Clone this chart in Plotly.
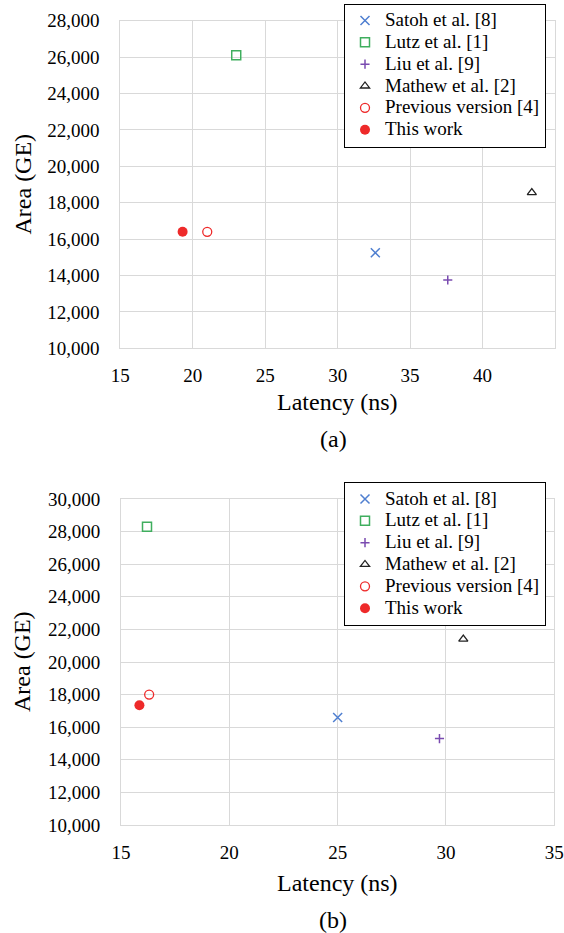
import plotly.graph_objects as go

# ---- data ----
series_names = ["Satoh et al. [8]", "Lutz et al. [1]", "Liu et al. [9]",
                "Mathew et al. [2]", "Previous version [4]", "This work"]

# (a)
lat_a = [32.6, 23.0, 37.6, 43.4, 21.0, 19.3]
area_a = [15250, 26100, 13750, 18550, 16400, 16400]

# (b)
lat_b = [25.0, 16.2, 29.7, 30.8, 16.3, 15.85]
area_b = [16600, 28300, 15300, 21400, 18000, 17350]

xticks_a = [15, 20, 25, 30, 35, 40, 45]
xticks_b = [15, 20, 25, 30, 35]

# ---- styles ----
symbols = ["x-thin-open", "square-open", "cross-thin-open",
           "triangle-up-open", "circle-open", "circle"]
colors = ["#4f7fd0", "#3fae5e", "#7a4bb0", "#222222", "#ee2a2a", "#ee2a2a"]
sizes = [9, 9, 6.5, 8, 9, 10]
line_w = [1.5, 1.5, 1.5, 1.3, 1.3, 0]

FONT = "Liberation Serif"
W, H = 564, 933

def legend_label(s):
    # larger glyphs than the legend's base size keep the rows compact
    return '<span style="font-size:19px">' + s + '</span>'

fig = go.Figure()
for i, name in enumerate(series_names):
    fig.add_trace(go.Scatter(
        x=[lat_a[i]], y=[area_a[i]], mode="markers", name=legend_label(name),
        marker=dict(symbol=symbols[i], color=colors[i], size=sizes[i],
                    line=dict(color=colors[i], width=line_w[i])),
        xaxis="x", yaxis="y", legend="legend"))
for i, name in enumerate(series_names):
    fig.add_trace(go.Scatter(
        x=[lat_b[i]], y=[area_b[i]], mode="markers", name=legend_label(name),
        marker=dict(symbol=symbols[i], color=colors[i], size=sizes[i],
                    line=dict(color=colors[i], width=line_w[i])),
        xaxis="x2", yaxis="y2", legend="legend2"))

grid = "#d9d9d9"
def xax(domain, rng, ticks, anchor):
    return dict(domain=domain, range=rng, tickvals=ticks, anchor=anchor,
                automargin=False,
                showgrid=True, gridcolor=grid, gridwidth=1,
                showline=True, linecolor=grid, linewidth=1, mirror=True,
                zeroline=False, ticks="", ticklabelstandoff=10,
                tickfont=dict(family=FONT, size=19, color="black"))
def yax(domain, rng, anchor):
    return dict(domain=domain, range=rng, dtick=2000, tickformat=",d", anchor=anchor,
                automargin=False,
                showgrid=True, gridcolor=grid, gridwidth=1,
                showline=True, linecolor=grid, linewidth=1, mirror=True,
                zeroline=False, ticks="", ticklabelstandoff=16,
                tickfont=dict(family=FONT, size=19, color="black"))

def leg(ytop):
    return dict(x=546 / W, xanchor="right", y=1 - ytop / H, yanchor="top",
                bgcolor="white", bordercolor="black", borderwidth=1,
                font=dict(family=FONT, size=14.5, color="black"),
                itemwidth=30, tracegroupgap=0)

fig.update_layout(
    width=W, height=H, margin=dict(l=0, r=0, t=0, b=0),
    plot_bgcolor="white", paper_bgcolor="white",
    font=dict(family=FONT, color="black"),
    xaxis=xax([120.3 / W, 555 / W], [15, 45], xticks_a, "y"),
    yaxis=yax([1 - 348.3 / H, 1 - 20.7 / H], [10000, 28000], "x"),
    xaxis2=xax([121 / W, 554.3 / W], [15, 35], xticks_b, "y2"),
    yaxis2=yax([1 - 825 / H, 1 - 499 / H], [10000, 30000], "x2"),
    legend=leg(3.5),
    legend2=leg(482),
    showlegend=True,
)

def ann(text, x, y, size, angle=0):
    fig.add_annotation(text=text, x=x / W, y=1 - y / H, xref="paper", yref="paper",
                       showarrow=False, textangle=angle, xanchor="center", yanchor="middle",
                       font=dict(family=FONT, size=size, color="black"))

ann("Latency (ns)", 337.6, 402, 24)
ann("(a)", 333, 439, 24)
ann("Area (GE)", 22, 184.5, 24, -90)
ann("Latency (ns)", 337.6, 883, 24)
ann("(b)", 333, 920, 24)
ann("Area (GE)", 22, 662, 24, -90)

fig.write_html("out.html", config={"displayModeBar": False},
               post_script="document.body.style.margin='0';document.body.style.overflow='hidden';")
